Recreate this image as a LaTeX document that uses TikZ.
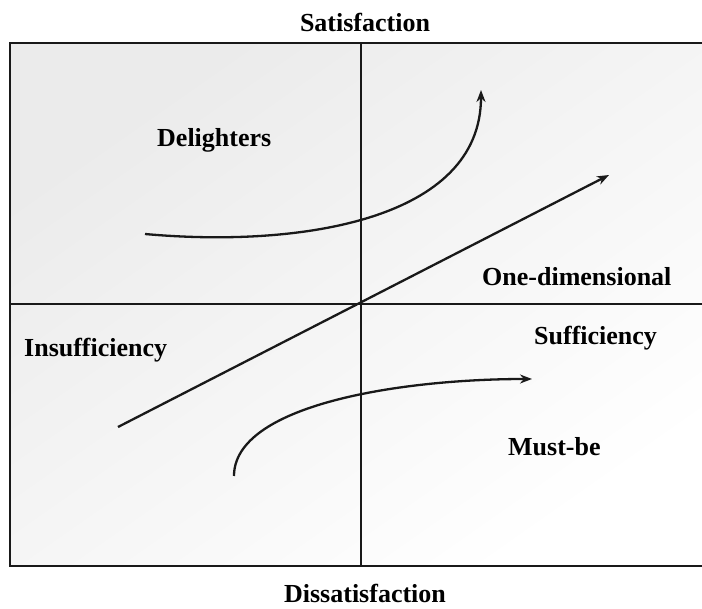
\documentclass[tikz,border=0pt]{standalone}
\usepackage{fontspec}
\setmainfont{Liberation Serif}
\usetikzlibrary{arrows.meta}
\begin{document}
\begin{tikzpicture}[x=1pt,y=-1pt,
  lbl/.style={font=\fontsize{26}{30}\selectfont\bfseries, inner sep=0pt},
  axisline/.style={line width=2.8pt, black!90},
  curve/.style={line width=2.3pt, black!90, -{Stealth[length=12pt,width=9pt]}}]
\useasboundingbox (0,0) rectangle (702,609);
% background gradient
\shade[top color=black!8, middle color=black!1.5, bottom color=white, shading angle=35] (10,43) rectangle (702,566);
% frame
\coordinate (tr) at (704,43);
\coordinate (tl) at (10,43);
\coordinate (bl) at (10,566);
\coordinate (br) at (704,566);
\draw[axisline] (tr) -- (tl) -- (bl) -- (br);
% axes
\coordinate (vt) at (361,43);
\coordinate (vb) at (361,566);
\coordinate (hl) at (10,304);
\coordinate (hr) at (704,304);
\draw[axisline] (vt) -- (vb);
\draw[axisline] (hl) -- (hr);
% curves
\coordinate (d0) at (145,234);
\coordinate (d1) at (481,90);
\draw[curve] (d0) .. controls (300,248) and (481,220) .. (d1);
\coordinate (o0) at (118,427);
\coordinate (o1) at (609,175);
\draw[curve] (o0) -- (o1);
\coordinate (m0) at (234,476);
\coordinate (m1) at (532,379);
\draw[curve] (m0) .. controls (234,405) and (400,379) .. (m1);
% labels
\node[lbl, anchor=base] (sat) at (365,32) {Satisfaction};
\node[lbl, anchor=base] (dis) at (365,602) {Dissatisfaction};
\node[lbl, anchor=base west] (del) at (157,147) {Delighters};
\node[lbl, anchor=base west] (one) at (482,286) {One-dimensional};
\node[lbl, anchor=base west] (suf) at (534,345) {Sufficiency};
\node[lbl, anchor=base west] (ins) at (24,357) {Insufficiency};
\node[lbl, anchor=base west] (mus) at (508,456) {Must-be};
\end{tikzpicture}
\end{document}
